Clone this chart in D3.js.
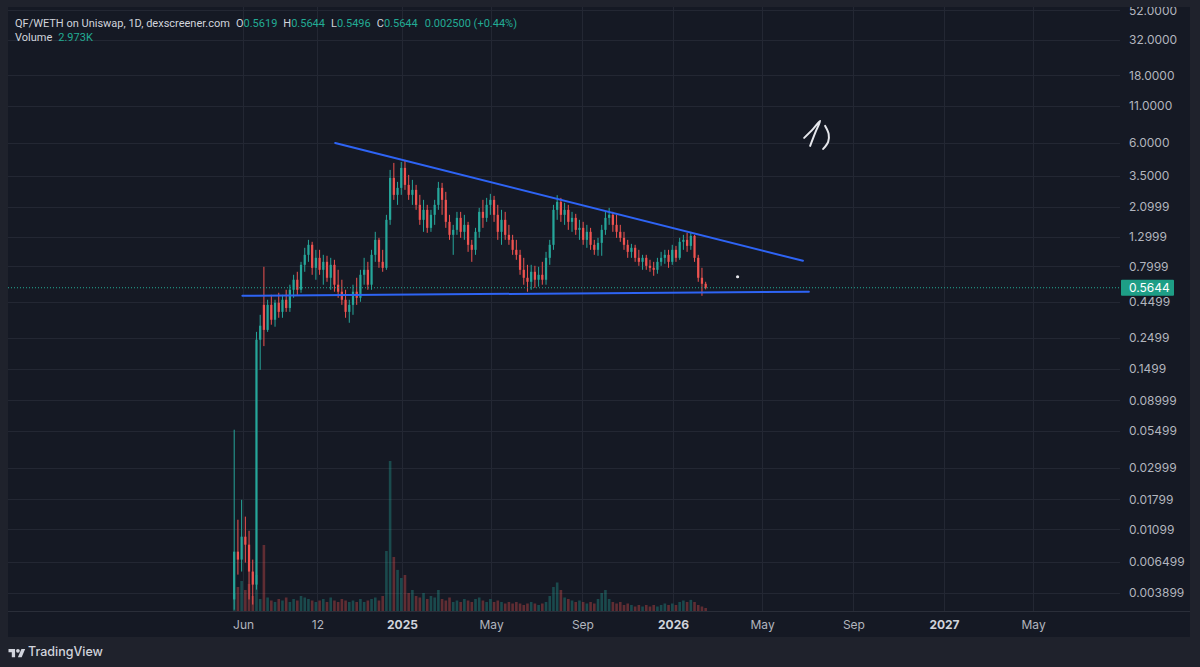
<!DOCTYPE html>
<html>
<head>
<meta charset="utf-8">
<script src="https://cdn.jsdelivr.net/npm/d3@7"></script>
<style>
  html, body { margin: 0; padding: 0; background: #1f222c; }
  svg { display: block; font-family: Inter, "Noto Sans", sans-serif; }
</style>
</head>
<body>
<svg id="chart" width="1200" height="667"></svg>
<script>
//chart values (5-day candles from 2024-05-20)

var firstDay = new Date(2024, 4, 20);
var barDays = 5;

var opens = [
    0.00351, 0.00765, 0.00672, 0.00976, 0.00857, 0.00553, 0.00447, 0.242, 0.427, 0.284,
    0.427, 0.335, 0.442, 0.381, 0.464, 0.406, 0.546, 0.643, 0.546, 0.820,
    0.965, 1.136, 0.781, 0.919, 0.756, 0.861, 0.664, 0.820, 0.593, 0.529,
    0.464, 0.381, 0.427, 0.529, 0.479, 0.697, 0.756, 0.593, 0.965, 1.232,
    0.861, 0.781, 1.707, 3.382, 2.565, 2.874, 3.980, 3.018, 2.565, 2.782,
    2.179, 1.707, 2.009, 1.498, 1.852, 2.179, 2.874, 2.364, 1.652, 1.337,
    1.450, 1.763, 1.404, 1.573, 1.136, 1.047, 1.404, 1.944, 1.763, 2.179,
    2.364, 1.852, 1.404, 1.707, 1.337, 1.232, 1.047, 0.965, 0.756, 0.664,
    0.622, 0.732, 0.643, 0.697, 0.643, 0.919, 1.136, 2.009, 2.288, 1.852,
    2.009, 1.652, 1.763, 1.450, 1.498, 1.232, 1.404, 1.136, 1.047, 1.173,
    1.450, 1.763, 1.852, 1.573, 1.404, 1.273, 1.136, 1.013, 1.082, 0.919,
    0.861, 0.919, 0.807, 0.781, 0.756, 0.861, 0.919, 0.965, 0.861, 1.047,
    0.919, 1.193, 1.232, 1.117, 1.315, 0.919, 0.664, 0.602
];
var highs = [
    0.0558, 0.01287, 0.0178, 0.01354, 0.01075, 0.00672, 0.275, 0.363, 0.794, 0.464,
    0.503, 0.464, 0.520, 0.503, 0.546, 0.593, 0.697, 0.732, 0.861, 1.082,
    1.232, 1.193, 1.047, 1.047, 0.965, 0.950, 0.919, 0.890, 0.756, 0.643,
    0.546, 0.464, 0.593, 0.664, 0.756, 0.919, 0.861, 1.047, 1.404, 1.273,
    1.047, 1.852, 3.852, 4.317, 3.169, 4.388, 4.533, 3.551, 3.274, 3.018,
    2.565, 2.364, 2.179, 2.009, 2.364, 3.169, 3.118, 2.693, 1.852, 1.573,
    1.944, 1.944, 1.852, 1.652, 1.232, 1.498, 2.075, 2.364, 2.442, 2.607,
    2.523, 2.179, 2.009, 1.944, 1.573, 1.337, 1.232, 1.047, 0.919, 0.820,
    0.820, 0.807, 0.794, 0.861, 1.013, 1.232, 2.179, 2.550, 2.442, 2.251,
    2.179, 1.944, 1.882, 1.707, 1.652, 1.573, 1.498, 1.232, 1.273, 1.573,
    1.944, 2.075, 1.944, 1.852, 1.573, 1.404, 1.232, 1.154, 1.136, 1.047,
    0.965, 0.965, 0.890, 0.861, 0.919, 1.013, 1.047, 1.047, 1.136, 1.117,
    1.273, 1.337, 1.381, 1.404, 1.337, 0.965, 0.781, 0.622
];
var lows = [
    0.00297, 0.00526, 0.00553, 0.0064, 0.00351, 0.00323, 0.00412, 0.148, 0.218, 0.275,
    0.309, 0.299, 0.346, 0.346, 0.381, 0.381, 0.479, 0.503, 0.520, 0.732,
    0.861, 0.697, 0.643, 0.697, 0.593, 0.622, 0.546, 0.529, 0.479, 0.427,
    0.346, 0.319, 0.363, 0.427, 0.449, 0.593, 0.546, 0.546, 0.861, 0.781,
    0.732, 0.756, 1.573, 2.364, 2.179, 2.565, 2.782, 2.364, 2.179, 2.009,
    1.573, 1.404, 1.381, 1.404, 1.573, 2.009, 1.852, 1.498, 1.232, 0.965,
    1.337, 1.273, 1.232, 1.013, 0.861, 0.965, 1.273, 1.498, 1.652, 1.852,
    1.652, 1.232, 1.136, 1.232, 1.136, 0.965, 0.890, 0.697, 0.593, 0.529,
    0.546, 0.564, 0.574, 0.593, 0.593, 0.820, 1.047, 1.707, 1.652, 1.573,
    1.450, 1.404, 1.337, 1.232, 1.136, 1.082, 1.047, 0.965, 0.950, 0.950,
    1.337, 1.573, 1.404, 1.273, 1.193, 1.047, 0.919, 0.919, 0.861, 0.807,
    0.756, 0.756, 0.732, 0.686, 0.709, 0.807, 0.834, 0.781, 0.820, 0.861,
    0.890, 1.047, 1.013, 1.047, 0.861, 0.622, 0.495, 0.5496
];
var closes = [
    0.00765, 0.00672, 0.00976, 0.00857, 0.00553, 0.00447, 0.242, 0.304, 0.284, 0.427,
    0.335, 0.442, 0.381, 0.464, 0.406, 0.546, 0.643, 0.546, 0.820, 0.965,
    1.136, 0.781, 0.919, 0.756, 0.861, 0.664, 0.820, 0.593, 0.529, 0.464,
    0.381, 0.427, 0.529, 0.479, 0.697, 0.756, 0.593, 0.965, 1.232, 0.861,
    0.781, 1.707, 3.382, 2.565, 2.874, 3.980, 3.018, 2.565, 2.782, 2.179,
    1.707, 2.009, 1.498, 1.852, 2.179, 2.874, 2.364, 1.652, 1.337, 1.450,
    1.763, 1.404, 1.573, 1.136, 1.047, 1.404, 1.944, 1.763, 2.179, 2.364,
    1.852, 1.404, 1.707, 1.337, 1.232, 1.047, 0.965, 0.756, 0.664, 0.622,
    0.732, 0.643, 0.697, 0.643, 0.919, 1.136, 2.009, 2.288, 1.852, 2.009,
    1.652, 1.763, 1.450, 1.498, 1.232, 1.404, 1.136, 1.047, 1.173, 1.450,
    1.763, 1.852, 1.573, 1.404, 1.273, 1.136, 1.013, 1.082, 0.919, 0.861,
    0.919, 0.807, 0.781, 0.756, 0.861, 0.919, 0.965, 0.861, 1.047, 0.919,
    1.193, 1.232, 1.117, 1.315, 0.919, 0.664, 0.602, 0.5644
];
// volume in K
var volumes = [
    60, 80, 100, 70, 90, 50, 120, 40, 220, 45,
    35, 30, 40, 35, 45, 30, 40, 35, 50, 45,
    40, 35, 30, 35, 40, 30, 45, 35, 30, 40,
    35, 30, 35, 30, 40, 30, 35, 40, 45, 35,
    50, 200, 500, 180, 137, 110, 120, 60, 70, 50,
    45, 60, 40, 50, 45, 70, 40, 35, 45, 30,
    35, 30, 40, 35, 30, 40, 45, 35, 30, 40,
    30, 35, 30, 25, 30, 25, 30, 25, 20, 25,
    30, 25, 20, 25, 30, 50, 80, 95, 70, 45,
    40, 35, 30, 35, 30, 25, 30, 25, 40, 60,
    70, 40, 30, 25, 30, 20, 25, 20, 15, 20,
    15, 20, 15, 20, 15, 20, 25, 20, 25, 20,
    30, 35, 30, 37, 30, 20, 15, 10
];

var priceTicks = [52, 32, 18, 11, 6, 3.5, 2.0999, 1.2999, 0.7999, 0.4499, 0.2499, 0.1499,
    0.08999, 0.05499, 0.02999, 0.01799, 0.01099, 0.006499, 0.003899];
var priceLabels = ["52.0000", "32.0000", "18.0000", "11.0000", "6.0000", "3.5000", "2.0999",
    "1.2999", "0.7999", "0.4499", "0.2499", "0.1499", "0.08999", "0.05499", "0.02999",
    "0.01799", "0.01099", "0.006499", "0.003899"];

var timeTicks = ["2024-06-01", "2024-09-09", "2025-01-01", "2025-05-01", "2025-09-01",
    "2026-01-01", "2026-05-01", "2026-09-01", "2027-01-01", "2027-05-01"];
var timeLabels = ["Jun", "12", "2025", "May", "Sep", "2026", "May", "Sep", "2027", "May"];

var lastPrice = 0.5644;
var upperTrend = [["2024-10-03", 5.98], ["2026-06-25", 0.875]];
var lowerTrend = [["2024-05-31", 0.495], ["2026-07-03", 0.529]];
var markerDot = ["2026-03-29", 0.675];
var noteAnchor = ["2026-06-28", 6.49];

//layout
var pane = {left: 8, top: 7, right: 1190, bottom: 637};
var plotRight = 1120;
var plotBottom = 611;

var upColor = "#26a69a";
var downColor = "#ef5350";
var tealText = "#22ab94";

var parseDay = d3.timeParse("%Y-%m-%d");

var svg = d3.select("#chart");

svg.append("rect")
    .attr("width", 1200)
    .attr("height", 667)
    .attr("fill", "#1f222c");

svg.append("rect")
    .attr("x", pane.left)
    .attr("y", pane.top)
    .attr("width", pane.right - pane.left)
    .attr("height", pane.bottom - pane.top)
    .attr("fill", "#151924");

var defs = svg.append("defs");
defs.append("clipPath").attr("id", "plotClip")
    .append("rect")
    .attr("x", pane.left)
    .attr("y", pane.top)
    .attr("width", plotRight - pane.left)
    .attr("height", plotBottom - pane.top);
defs.append("clipPath").attr("id", "paneClip")
    .append("rect")
    .attr("x", pane.left)
    .attr("y", pane.top)
    .attr("width", pane.right - pane.left)
    .attr("height", plotBottom - pane.top);

//scales
var x = d3.scaleTime()
    .domain([new Date(2025, 0, 1), new Date(2027, 0, 1)])
    .range([402, 944]);

var y = d3.scaleLog()
    .domain([0.003899, 32])
    .range([593, 40]);

var yVol = d3.scaleLinear()
    .domain([0, 600])
    .range([plotBottom, plotBottom - 180]);

var plot = svg.append("g").attr("clip-path", "url(#plotClip)");

//grid
plot.selectAll(".hgrid")
    .data(priceTicks)
    .enter()
    .append("line")
    .attr("x1", pane.left)
    .attr("x2", plotRight)
    .attr("y1", function (d) { return Math.round(y(d)) + 0.5; })
    .attr("y2", function (d) { return Math.round(y(d)) + 0.5; })
    .attr("stroke", "#232733");

plot.selectAll(".vgrid")
    .data(timeTicks)
    .enter()
    .append("line")
    .attr("x1", function (d) { return Math.round(x(parseDay(d))) + 0.5; })
    .attr("x2", function (d) { return Math.round(x(parseDay(d))) + 0.5; })
    .attr("y1", pane.top)
    .attr("y2", plotBottom)
    .attr("stroke", "#232733");

//bars
var bars = d3.range(closes.length).map(function (i) {
    return {
        date: d3.timeDay.offset(firstDay, i * barDays),
        o: opens[i], h: highs[i], l: lows[i], c: closes[i], v: volumes[i]
    };
});
var step = x(d3.timeDay.offset(firstDay, barDays)) - x(firstDay);

plot.append("g").selectAll("rect")
    .data(bars)
    .enter()
    .append("rect")
    .attr("x", function (d) { return x(d.date) - step * 0.35; })
    .attr("width", step * 0.7)
    .attr("y", function (d) { return yVol(d.v); })
    .attr("height", function (d) { return plotBottom - yVol(d.v); })
    .attr("fill", function (d) { return d.c >= d.o ? upColor : downColor; })
    .attr("opacity", 0.35);

var candles = plot.append("g").selectAll("g")
    .data(bars)
    .enter()
    .append("g");

candles.append("line")
    .attr("x1", function (d) { return x(d.date); })
    .attr("x2", function (d) { return x(d.date); })
    .attr("y1", function (d) { return y(d.h); })
    .attr("y2", function (d) { return y(d.l); })
    .attr("stroke", function (d) { return d.c >= d.o ? upColor : downColor; })
    .attr("stroke-width", 1);

candles.append("rect")
    .attr("x", function (d) { return x(d.date) - step * 0.3; })
    .attr("width", step * 0.6)
    .attr("y", function (d) { return y(Math.max(d.o, d.c)); })
    .attr("height", function (d) { return Math.max(1, Math.abs(y(d.o) - y(d.c))); })
    .attr("fill", function (d) { return d.c >= d.o ? upColor : downColor; });

//last price line
plot.append("line")
    .attr("x1", pane.left)
    .attr("x2", plotRight)
    .attr("y1", y(lastPrice))
    .attr("y2", y(lastPrice))
    .attr("stroke", tealText)
    .attr("stroke-width", 1)
    .attr("stroke-dasharray", "1,2");

//drawings
var trendLine = d3.line()
    .x(function (d) { return x(parseDay(d[0])); })
    .y(function (d) { return y(d[1]); });

[upperTrend, lowerTrend].forEach(function (t) {
    plot.append("path")
        .attr("d", trendLine(t))
        .attr("fill", "none")
        .attr("stroke", "#2e64f5")
        .attr("stroke-width", 2)
        .attr("stroke-linecap", "round");
});

plot.append("circle")
    .attr("cx", x(parseDay(markerDot[0])))
    .attr("cy", y(markerDot[1]))
    .attr("r", 1.6)
    .attr("fill", "#e8e9ee");

// hand written "1)"
var ax = x(parseDay(noteAnchor[0]));
var ay = y(noteAnchor[1]);
var noteStrokes = [
    {pts: [[-1, 0], [8, -9], [15, -17], [10, -5], [5, 8]], curve: d3.curveCatmullRom},
    {pts: [[20, -12], [23.5, -4], [23, 4], [18, 11]], curve: d3.curveCatmullRom}
];
noteStrokes.forEach(function (s) {
    plot.append("path")
        .attr("d", d3.line().curve(s.curve)
            .x(function (p) { return ax + p[0]; })
            .y(function (p) { return ay + p[1]; })(s.pts))
        .attr("fill", "none")
        .attr("stroke", "#e6e7ec")
        .attr("stroke-width", 2)
        .attr("stroke-linecap", "round")
        .attr("stroke-linejoin", "round");
});

//separators
svg.append("line")
    .attr("x1", pane.left).attr("x2", pane.right)
    .attr("y1", plotBottom + 0.5).attr("y2", plotBottom + 0.5)
    .attr("stroke", "#2a2e39");

//price axis
var priceAxis = d3.axisRight(y)
    .tickValues(priceTicks)
    .tickFormat(function (d, i) { return priceLabels[i]; })
    .tickSize(0)
    .tickPadding(0);

var pa = svg.append("g")
    .attr("clip-path", "url(#paneClip)")
    .append("g")
    .attr("transform", "translate(1129,0)")
    .call(priceAxis);
pa.select(".domain").remove();
pa.selectAll("text")
    .attr("fill", "#b2b5be")
    .style("font-size", "12px")
    .style("font-family", "Inter, sans-serif");

//last price badge
var badge = svg.append("g");
badge.append("rect")
    .attr("x", 1121)
    .attr("y", y(lastPrice) - 8)
    .attr("width", 53)
    .attr("height", 16)
    .attr("rx", 1)
    .attr("fill", "#1e9e86");
badge.append("text")
    .attr("x", 1129)
    .attr("y", y(lastPrice))
    .attr("dy", "0.35em")
    .attr("fill", "#ffffff")
    .style("font-size", "12px")
    .text(lastPrice.toFixed(4));

//time axis
var timeAxis = d3.axisBottom(x)
    .tickValues(timeTicks.map(parseDay))
    .tickFormat(function (d, i) { return timeLabels[i]; })
    .tickSize(0)
    .tickPadding(9);

var ta = svg.append("g")
    .attr("transform", "translate(0," + plotBottom + ")")
    .call(timeAxis);
ta.select(".domain").remove();
ta.selectAll("text")
    .attr("fill", function (d, i) { return /^\d{4}$/.test(timeLabels[i]) ? "#d1d4dc" : "#b2b5be"; })
    .style("font-weight", function (d, i) { return /^\d{4}$/.test(timeLabels[i]) ? "700" : "400"; })
    .style("font-size", "12px")
    .style("font-family", "Inter, sans-serif");

//legend at top left
var header = svg.append("text")
    .attr("x", 15)
    .attr("y", 27)
    .style("font-size", "11px")
    .style("font-family", "Roboto, sans-serif")
    .attr("fill", "#d1d4dc");
header.append("tspan").text("QF/WETH on Uniswap, 1D, dexscreener.com");
var ohlc = [["O", "0.5619"], ["H", "0.5644"], ["L", "0.5496"], ["C", "0.5644"]];
ohlc.forEach(function (p) {
    header.append("tspan").attr("dx", 6).text(p[0]);
    header.append("tspan").attr("fill", tealText).text(p[1]);
});
header.append("tspan").attr("dx", 7).attr("fill", tealText).text("0.002500 (+0.44%)");

var volText = svg.append("text")
    .attr("x", 15)
    .attr("y", 41)
    .style("font-size", "11px")
    .style("font-family", "Roboto, sans-serif")
    .attr("fill", "#d1d4dc");
volText.append("tspan").text("Volume");
volText.append("tspan").attr("dx", 6).attr("fill", tealText).text("2.973K");

//TradingView logo
var logo = svg.append("g").attr("transform", "translate(8.5,647) scale(0.47)");
logo.append("path")
    .attr("d", "M14 22H7V11H0V4h14v18zM28 22h-8l7.5-18h8L28 22z")
    .attr("fill", "#d1d4dc");
logo.append("circle")
    .attr("cx", 20).attr("cy", 8).attr("r", 4)
    .attr("fill", "#d1d4dc");
svg.append("text")
    .attr("x", 28)
    .attr("y", 656)
    .attr("fill", "#d1d4dc")
    .style("font-size", "12.5px")
    .style("font-weight", "500")
    .text("TradingView");
</script>
</body>
</html>
